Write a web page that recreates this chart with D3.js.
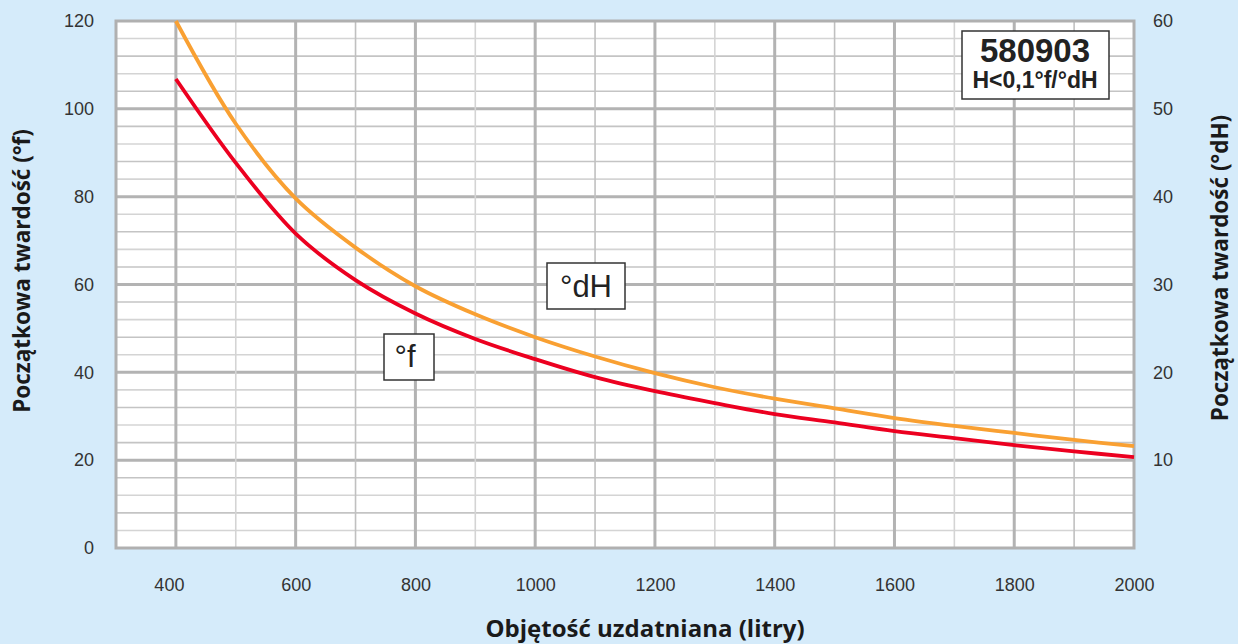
<!DOCTYPE html>
<html>
<head>
<meta charset="utf-8">
<script src="https://cdn.jsdelivr.net/npm/d3@7"></script>
<style>
  html, body { margin: 0; padding: 0; background: #d5ebfa; }
  svg { display: block; }
  .tick text { font-family: "Liberation Sans", Arial, sans-serif; fill: #333; }
</style>
</head>
<body>
<div class="plot"></div>
<script>
// volumes (litry)
const volumes = [400, 500, 600, 700, 800, 900, 1000, 1100, 1200, 1300, 1400, 1500, 1600, 1700, 1800, 1900, 2000];
// initial hardness in °f (red, left axis)
const hardnessF = [106.8, 87.7, 71.6, 61.0, 53.4, 47.6, 43.0, 38.9, 35.7, 33.0, 30.5, 28.6, 26.6, 25.0, 23.4, 22.0, 20.7];
// initial hardness in °dH (orange, right axis)
const hardnessDH = [60.0, 48.3, 39.8, 34.2, 29.8, 26.6, 24.0, 21.8, 19.9, 18.3, 17.0, 15.9, 14.8, 13.9, 13.1, 12.3, 11.6];

const xTicks = [400, 600, 800, 1000, 1200, 1400, 1600, 1800, 2000];
const yLeftTicks = [0, 20, 40, 60, 80, 100, 120];
const yRightTicks = [10, 20, 30, 40, 50, 60];

const W = 1238, H = 644;
const plot = {left: 116, right: 1134, top: 21, bottom: 548};

const svg = d3.select(".plot")
    .append("svg")
        .attr("width", W)
        .attr("height", H);

svg.append("rect")
    .attr("width", W).attr("height", H)
    .attr("fill", "#d5ebfa");

const x = d3.scaleLinear().domain([300, 2000]).range([plot.left, plot.right]);
const yL = d3.scaleLinear().domain([0, 120]).range([plot.bottom, plot.top]);
const yR = d3.scaleLinear().domain([0, 60]).range([plot.bottom, plot.top]);

// plot background
svg.append("rect")
    .attr("x", plot.left).attr("y", plot.top)
    .attr("width", plot.right - plot.left)
    .attr("height", plot.bottom - plot.top)
    .attr("fill", "#fff");

// grid
const grid = svg.append("g");
grid.selectAll(".hgrid")
    .data(d3.range(4, 120, 4))
    .enter()
    .append("line")
        .attr("x1", plot.left).attr("x2", plot.right)
        .attr("y1", d => yL(d)).attr("y2", d => yL(d))
        .attr("stroke", d => d % 20 === 0 ? "#b3b3b3" : (d % 8 === 0 ? "#c4c4c4" : "#d4d4d4"))
        .attr("stroke-width", d => d % 20 === 0 ? 3 : 1.6);

grid.selectAll(".vgrid")
    .data(d3.range(400, 2000, 100))
    .enter()
    .append("line")
        .attr("y1", plot.top).attr("y2", plot.bottom)
        .attr("x1", d => x(d)).attr("x2", d => x(d))
        .attr("stroke", d => d % 200 === 0 ? "#b3b3b3" : (d % 400 === 100 ? "#d4d4d4" : "#c0c0c0"))
        .attr("stroke-width", d => d % 200 === 0 ? 3 : 1.6);

// frame
svg.append("rect")
    .attr("x", plot.left).attr("y", plot.top)
    .attr("width", plot.right - plot.left)
    .attr("height", plot.bottom - plot.top)
    .attr("fill", "none")
    .attr("stroke", "#b0b0b0")
    .attr("stroke-width", 3);

// curves
const lineF = d3.line()
    .x((d, i) => x(volumes[i]))
    .y(d => yL(d))
    .curve(d3.curveCatmullRom.alpha(0.5));
const lineDH = d3.line()
    .x((d, i) => x(volumes[i]))
    .y(d => yR(d))
    .curve(d3.curveCatmullRom.alpha(0.5));

svg.append("path")
    .attr("d", lineDH(hardnessDH))
    .attr("fill", "none")
    .attr("stroke", "#f9a032")
    .attr("stroke-width", 3.8);

svg.append("path")
    .attr("d", lineF(hardnessF))
    .attr("fill", "none")
    .attr("stroke", "#ec0020")
    .attr("stroke-width", 3.8);

// axes
const xAxis = svg.append("g")
    .attr("transform", "translate(0," + plot.bottom + ")")
    .call(d3.axisBottom(x).tickValues(xTicks).tickFormat(d3.format("d")).tickSize(0).tickPadding(30));
xAxis.select(".domain").remove();
xAxis.selectAll("text").style("font-size", "18px");
xAxis.selectAll("text").filter(d => d === 400).attr("dx", -7);

const yAxisL = svg.append("g")
    .attr("transform", "translate(" + plot.left + ",0)")
    .call(d3.axisLeft(yL).tickValues(yLeftTicks).tickSize(0).tickPadding(22));
yAxisL.select(".domain").remove();
yAxisL.selectAll("text").style("font-size", "18px");

const yAxisR = svg.append("g")
    .attr("transform", "translate(" + plot.right + ",0)")
    .call(d3.axisRight(yR).tickValues(yRightTicks).tickSize(0).tickPadding(19));
yAxisR.select(".domain").remove();
yAxisR.selectAll("text").style("font-size", "18px");

// axis titles
const titleFont = "'Open Sans', 'DejaVu Sans', sans-serif";
svg.append("text")
    .attr("transform", "translate(30,271) rotate(-90)")
    .attr("text-anchor", "middle")
    .style("font-family", titleFont)
    .style("font-weight", "bold")
    .style("font-size", "22.5px")
    .style("fill", "#1a1a1a")
    .text("Początkowa twardość (°f)");

svg.append("text")
    .attr("transform", "translate(1228,268) rotate(-90)")
    .attr("text-anchor", "middle")
    .style("font-family", titleFont)
    .style("font-weight", "bold")
    .style("font-size", "22.5px")
    .style("fill", "#1a1a1a")
    .text("Początkowa twardość (°dH)");

svg.append("text")
    .attr("x", 645).attr("y", 637)
    .attr("text-anchor", "middle")
    .style("font-family", titleFont)
    .style("font-weight", "bold")
    .style("font-size", "24px")
    .style("fill", "#1a1a1a")
    .text("Objętość uzdatniana (litry)");

// model box
const box = svg.append("g");
box.append("rect")
    .attr("x", 962).attr("y", 31)
    .attr("width", 147).attr("height", 68)
    .attr("fill", "#fff")
    .attr("stroke", "#333")
    .attr("stroke-width", 1.5);
box.append("text")
    .attr("x", 1035).attr("y", 62)
    .attr("text-anchor", "middle")
    .style("font-family", "'Liberation Sans', Arial, sans-serif")
    .style("font-weight", "bold")
    .style("font-size", "33px")
    .style("fill", "#222")
    .text("580903");
box.append("text")
    .attr("x", 1035).attr("y", 88)
    .attr("text-anchor", "middle")
    .style("font-family", "'Liberation Sans', Arial, sans-serif")
    .style("font-weight", "bold")
    .style("font-size", "23px")
    .style("fill", "#222")
    .text("H<0,1°f/°dH");

// series labels
const labels = [
    {text: "°dH", x: 547, y: 263, w: 78, h: 46, tx: 586, ty: 297},
    {text: "°f", x: 384, y: 334, w: 50, h: 46, tx: 405, ty: 367}
];
labels.forEach(l => {
    svg.append("rect")
        .attr("x", l.x).attr("y", l.y)
        .attr("width", l.w).attr("height", l.h)
        .attr("fill", "#fff")
        .attr("stroke", "#333")
        .attr("stroke-width", 1.5);
    svg.append("text")
        .attr("x", l.tx).attr("y", l.ty)
        .attr("text-anchor", "middle")
        .style("font-family", "'Liberation Sans', Arial, sans-serif")
        .style("font-size", "31px")
        .style("fill", "#222")
        .text(l.text);
});
</script>
</body>
</html>
